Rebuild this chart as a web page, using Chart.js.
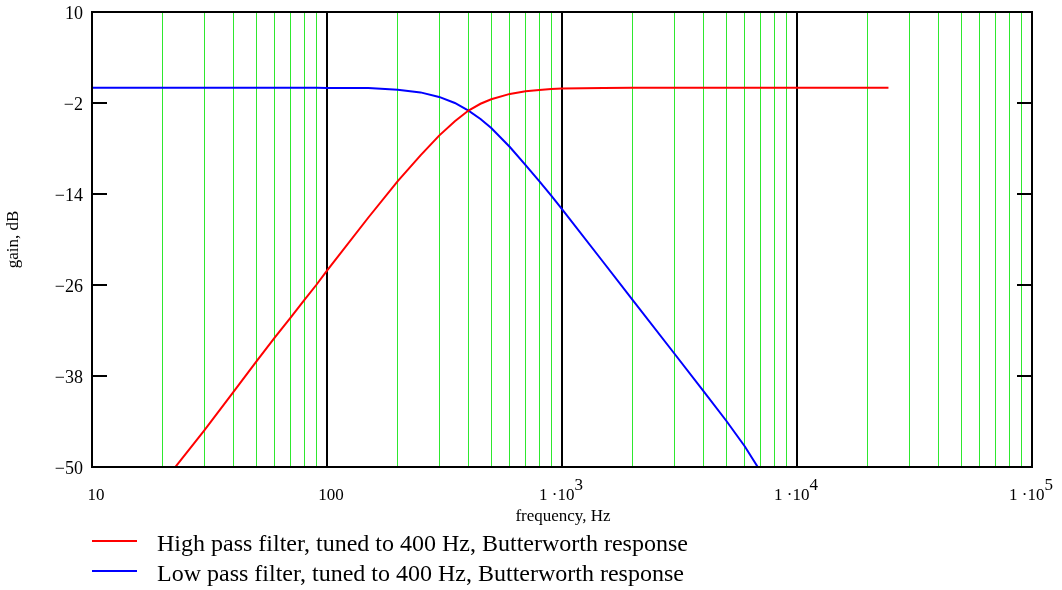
<!DOCTYPE html>
<html>
<head>
<meta charset="utf-8">
<script src="https://cdn.jsdelivr.net/npm/chart.js@4.4.0/dist/chart.umd.min.js"></script>
<style>
  html, body { margin: 0; padding: 0; background: #ffffff; }
  canvas { display: block; }
</style>
</head>
<body>
<canvas id="c" width="1062" height="590"></canvas>
<script>
// ---- data ----
const freqHz = [10, 20, 30, 40, 50, 60, 70, 80, 90, 100, 150, 200, 250, 300, 350, 400, 450, 500, 600, 700,
                800, 900, 1000, 1500, 2000, 3000, 4000, 5000, 6000, 7000, 8000, 10000, 15000, 20000, 24500];
const highPassDb = [-64, -52.1, -45.2, -40.1, -36.1, -32.9, -30.3, -28.0, -26.0, -24.1,
                    -17.1, -12.3, -8.9, -6.3, -4.4, -3.0, -2.1, -1.5, -0.8, -0.45,
                    -0.27, -0.17, -0.1, -0.02, 0, 0, 0, 0, 0, 0, 0, 0, 0, 0, 0];
const lowPassDb = [0, 0, 0, 0, 0, 0, 0, 0, 0, -0.01,
                   -0.03, -0.26, -0.6, -1.2, -2.0, -3.0, -4.1, -5.3, -7.8, -10.2,
                   -12.3, -14.2, -16.0, -23.0, -28.0, -35.0, -40.0, -43.9, -47.3, -50.6,
                   -52.8, -56.0, -63.0, -68.0, -71.6];
const seriesLabels = ["High pass filter, tuned to 400 Hz, Butterworth response",
                      "Low pass filter, tuned to 400 Hz, Butterworth response"];
const seriesColors = ["#ff0000", "#0000ff"];
const yTicks = [10, -2, -14, -26, -38, -50];
const xDecades = [10, 100, 1000, 10000, 100000];
const xTickBase = ["10", "100", "1 \u00b710", "1 \u00b710", "1 \u00b710"];
const xTickExp = ["", "", "3", "4", "5"];
const xTitle = "frequency, Hz";
const yTitle = "gain, dB";

// minor + major log grid positions
const gridValues = [];
for (let d = 0; d < xDecades.length - 1; d++) {
  for (let m = 1; m <= 9; m++) gridValues.push(xDecades[d] * m);
}
gridValues.push(xDecades[xDecades.length - 1]);
const isDecade = v => xDecades.some(d => Math.abs(d - v) < 1e-6 * d);

const SERIF = '"Liberation Serif", "Times New Roman", serif';

const deco = {
  id: 'deco',
  afterDraw(chart) {
    const { ctx, chartArea: a, scales: { x, y } } = chart;
    ctx.save();
    ctx.strokeStyle = '#000';
    ctx.lineWidth = 2;
    // inward ticks on left and right
    yTicks.forEach(v => {
      const py = Math.round(y.getPixelForValue(v));
      ctx.beginPath();
      ctx.moveTo(a.left, py); ctx.lineTo(a.left + 15, py);
      ctx.moveTo(a.right - 15, py); ctx.lineTo(a.right, py);
      ctx.stroke();
    });
    // frame
    ctx.strokeRect(a.left, a.top, a.right - a.left, a.bottom - a.top);

    ctx.fillStyle = '#000';
    // y tick labels
    ctx.font = '18px ' + SERIF;
    ctx.textAlign = 'right';
    ctx.textBaseline = 'middle';
    yTicks.forEach(v => {
      const txt = v < 0 ? '\u2212' + Math.abs(v) : String(v);
      ctx.fillText(txt, a.left - 9, y.getPixelForValue(v) + 2);
    });
    // x tick labels
    ctx.font = '17px ' + SERIF;
    ctx.textAlign = 'left';
    xDecades.forEach((v, i) => {
      const px = x.getPixelForValue(v);
      const bw = ctx.measureText(xTickBase[i]).width;
      const ew = xTickExp[i] ? ctx.measureText(xTickExp[i]).width : 0;
      const total = bw + ew;
      const left = xTickExp[i] ? px - total / 2 - 1 : px - total / 2 + 4;
      ctx.fillText(xTickBase[i], left, 496);
      if (xTickExp[i]) ctx.fillText(xTickExp[i], left + bw, 486);
    });
    // axis titles
    ctx.font = '17px ' + SERIF;
    ctx.textAlign = 'center';
    ctx.fillText(xTitle, (a.left + a.right) / 2 + 1, 517);
    ctx.save();
    ctx.translate(14, (a.top + a.bottom) / 2);
    ctx.rotate(-Math.PI / 2);
    ctx.fillText(yTitle, 0, 0);
    ctx.restore();
    // legend
    const legY = [541, 571];
    ctx.font = '24px ' + SERIF;
    ctx.textAlign = 'left';
    seriesLabels.forEach((lab, i) => {
      ctx.strokeStyle = seriesColors[i];
      ctx.lineWidth = 2;
      ctx.beginPath();
      ctx.moveTo(92, legY[i]); ctx.lineTo(137, legY[i]);
      ctx.stroke();
      ctx.fillStyle = '#000';
      ctx.fillText(lab, 157, legY[i] + 4);
    });
    ctx.restore();
  }
};

new Chart(document.getElementById('c'), {
  type: 'line',
  data: {
    datasets: [
      { label: seriesLabels[0], data: freqHz.map((f, i) => ({ x: f, y: highPassDb[i] })),
        borderColor: seriesColors[0], borderWidth: 2, pointRadius: 0, tension: 0, fill: false },
      { label: seriesLabels[1], data: freqHz.map((f, i) => ({ x: f, y: lowPassDb[i] })),
        borderColor: seriesColors[1], borderWidth: 2, pointRadius: 0, tension: 0, fill: false }
    ]
  },
  options: {
    responsive: false,
    animation: false,
    layout: { padding: { left: 92, right: 30, top: 12, bottom: 123 } },
    plugins: { legend: { display: false }, tooltip: { enabled: false } },
    scales: {
      x: {
        type: 'logarithmic', min: 10, max: 100000,
        afterBuildTicks: s => { s.ticks = gridValues.map(v => ({ value: v, major: isDecade(v) })); },
        ticks: { display: false },
        grid: {
          drawTicks: false,
          color: c => isDecade(c.tick.value) ? '#000000' : '#2ee82e',
          lineWidth: c => isDecade(c.tick.value) ? 2 : 1
        },
        border: { display: false }
      },
      y: {
        min: -50, max: 10,
        afterBuildTicks: s => { s.ticks = yTicks.map(v => ({ value: v })); },
        ticks: { display: false },
        grid: { display: false, drawTicks: false },
        border: { display: false }
      }
    }
  },
  plugins: [deco]
});
</script>
</body>
</html>
